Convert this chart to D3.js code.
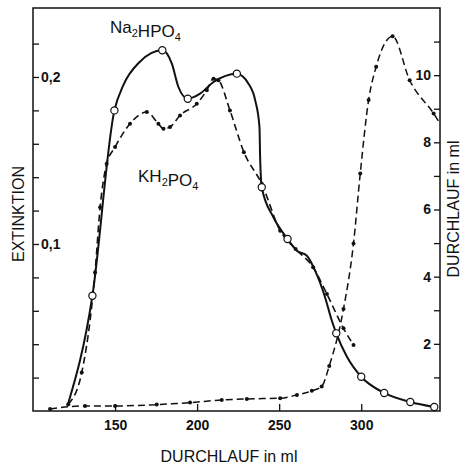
<!DOCTYPE html>
<html>
<head>
<meta charset="utf-8">
<script src="https://cdn.jsdelivr.net/npm/d3@7/dist/d3.min.js"></script>
<style>
  body { margin: 0; background: #fff; }
  text { font-family: "Liberation Sans", Arial, sans-serif; fill: #111; }
</style>
</head>
<body>
<script>
// Na2HPO4 (solid, open circles) - extinction
var naX = [121, 136.2, 149.6, 155, 165, 178.8, 184.6, 188.6, 194.3, 201.8, 210, 224.2, 231.3, 235.4, 238, 238.4, 239.4, 246.5, 255.1, 260.8, 266.9, 271.9, 278, 282.1, 284.8, 291.3, 300, 314, 329.9, 344.5];
var naY = [0.003, 0.069, 0.180, 0.195, 0.209, 0.216, 0.208, 0.194, 0.187, 0.190, 0.197, 0.202, 0.196, 0.186, 0.170, 0.152, 0.134, 0.116, 0.103, 0.096, 0.093, 0.084, 0.068, 0.054, 0.0465, 0.0325, 0.0205, 0.0108, 0.0054, 0.0024];
var naMarkX = [136.2, 149.6, 178.8, 194.3, 224.2, 239.4, 255.1, 284.8, 300, 314, 329.9, 344.5];
var naMarkY = [0.069, 0.180, 0.216, 0.187, 0.202, 0.134, 0.103, 0.0465, 0.0205, 0.0108, 0.0054, 0.0024];

// KH2PO4 (dashed, dots) - extinction
var khX = [121.5, 129.7, 137.8, 140.9, 144.9, 150, 159.1, 169.3, 176.4, 179.5, 183.5, 189.6, 199.8, 205.9, 210, 213, 220, 228.5, 239.4, 250.6, 260, 270.7, 279.1, 289.2, 295.3];
var khY = [0.004, 0.023, 0.083, 0.122, 0.148, 0.158, 0.172, 0.179, 0.172, 0.169, 0.170, 0.177, 0.184, 0.192, 0.199, 0.198, 0.180, 0.155, 0.136, 0.108, 0.097, 0.086, 0.070, 0.0495, 0.0395];

// third curve (dashed, dots) - right axis, ml
var dlX = [110.4, 131.7, 150, 175.4, 195.7, 215, 230.3, 250.6, 260.8, 269.9, 275.9, 280.5, 289.2, 295.3, 299.4, 304.5, 309.1, 319.1, 329.5, 344.1];
var dlY = [0.06, 0.15, 0.15, 0.19, 0.25, 0.33, 0.36, 0.38, 0.48, 0.6, 0.73, 1.34, 3.04, 4.99, 7.07, 9.26, 10.25, 11.16, 9.85, 8.86];
var dlEndX = 348, dlEndY = 8.56;

var xTicks = [150, 200, 250, 300];
var leftTicks = [0.02, 0.04, 0.06, 0.08, 0.1, 0.12, 0.14, 0.16, 0.18, 0.2, 0.22];
var leftLabels = [0.1, 0.2];
var rightTicks = [1, 2, 3, 4, 5, 6, 7, 8, 9, 10, 11];
var rightLabels = [2, 4, 6, 8, 10];

var margin = {top: 8, right: 24, bottom: 58, left: 33},
    width = 464 - margin.left - margin.right,
    height = 469 - margin.top - margin.bottom;

var svg = d3.select("body").append("svg")
    .attr("width", 464)
    .attr("height", 469)
  .append("g")
    .attr("transform", "translate(" + margin.left + "," + margin.top + ")");

var x = d3.scaleLinear().domain([100, 348]).range([0, width]);
var y = d3.scaleLinear().domain([0, 0.2413]).range([height, 0]);
var y2 = d3.scaleLinear().domain([0, 12.0]).range([height, 0]);

// axes
var xAxis = d3.axisBottom(x).tickValues(xTicks).tickSize(-7).tickPadding(9);
var yAxis = d3.axisRight(y).tickValues(leftTicks).tickSize(6).tickPadding(2)
    .tickFormat(function(d) { return leftLabels.some(function(v) { return Math.abs(v - d) < 1e-9; }) ? d3.format(".1f")(d).replace(".", ",") : ""; });
var y2Axis = d3.axisLeft(y2).tickValues(rightTicks).tickSize(6).tickPadding(3)
    .tickFormat(function(d) { return rightLabels.indexOf(d) >= 0 ? d : ""; });

function styleAxis(g) {
    g.select(".domain").remove();
    g.selectAll(".tick line").attr("stroke", "#111").attr("stroke-width", 1.3);
    g.selectAll(".tick text")
        .attr("font-size", 14)
        .attr("font-weight", "bold")
        .attr("font-family", "Liberation Sans, Arial, sans-serif")
        .attr("fill", "#111");
}

svg.append("g").attr("transform", "translate(0," + height + ")").call(xAxis).call(styleAxis);
svg.append("g").call(yAxis).call(styleAxis);
svg.append("g").attr("transform", "translate(" + width + ",0)").call(y2Axis).call(styleAxis);

svg.append("rect")
    .attr("width", width).attr("height", height)
    .attr("fill", "none").attr("stroke", "#111").attr("stroke-width", 1.5);

// lines
var lineL = d3.line()
    .x(function(d) { return x(d[0]); })
    .y(function(d) { return y(d[1]); })
    .curve(d3.curveMonotoneX);
var lineR = d3.line()
    .x(function(d) { return x(d[0]); })
    .y(function(d) { return y2(d[1]); })
    .curve(d3.curveMonotoneX);

var naData = naX.map(function(v, i) { return [v, naY[i]]; });
var khData = khX.map(function(v, i) { return [v, khY[i]]; });
var dlData = dlX.map(function(v, i) { return [v, dlY[i]]; });
var dlLine = dlData.concat([[dlEndX, dlEndY]]);

svg.append("path").datum(dlLine)
    .attr("fill", "none").attr("stroke", "#111").attr("stroke-width", 1.5)
    .attr("stroke-dasharray", "7,4").attr("d", lineR);

svg.append("path").datum(khData)
    .attr("fill", "none").attr("stroke", "#111").attr("stroke-width", 1.6)
    .attr("stroke-dasharray", "7,4").attr("d", lineL);

svg.append("path").datum(naData)
    .attr("fill", "none").attr("stroke", "#111").attr("stroke-width", 2)
    .attr("d", lineL);

// markers
svg.selectAll(".dl-dot").data(dlData).enter().append("circle")
    .attr("cx", function(d) { return x(d[0]); })
    .attr("cy", function(d) { return y2(d[1]); })
    .attr("r", 2).attr("fill", "#111");

svg.selectAll(".kh-dot").data(khData).enter().append("circle")
    .attr("cx", function(d) { return x(d[0]); })
    .attr("cy", function(d) { return y(d[1]); })
    .attr("r", 2).attr("fill", "#111");

svg.selectAll(".na-mark").data(naMarkX).enter().append("circle")
    .attr("cx", function(d) { return x(d); })
    .attr("cy", function(d, i) { return y(naMarkY[i]); })
    .attr("r", 3.6).attr("fill", "#fff").attr("stroke", "#111").attr("stroke-width", 1.2);

// labels
var root = d3.select("svg");

function chem(parts, px, py) {
    var t = root.append("text").attr("x", px).attr("y", py).attr("font-size", 17);
    parts.forEach(function(p) {
        if (p.sub) {
            t.append("tspan").attr("font-size", 11).attr("dy", 4).text(p.s);
            t.append("tspan").attr("font-size", 17).attr("dy", -4).text("");
        } else {
            t.append("tspan").text(p.s);
        }
    });
}
chem([{s: "Na"}, {s: "2", sub: true}, {s: "HPO"}, {s: "4", sub: true}], 110, 33);
chem([{s: "KH"}, {s: "2", sub: true}, {s: "PO"}, {s: "4", sub: true}], 138, 182);

root.append("text")
    .attr("x", 229).attr("y", 462)
    .attr("text-anchor", "middle").attr("font-size", 16)
    .text("DURCHLAUF  in ml");

root.append("text")
    .attr("transform", "translate(24,214) rotate(-90)")
    .attr("text-anchor", "middle").attr("font-size", 16)
    .text("EXTINKTION");

root.append("text")
    .attr("transform", "translate(459,209) rotate(-90)")
    .attr("text-anchor", "middle").attr("font-size", 16)
    .text("DURCHLAUF  in ml");
</script>
</body>
</html>
